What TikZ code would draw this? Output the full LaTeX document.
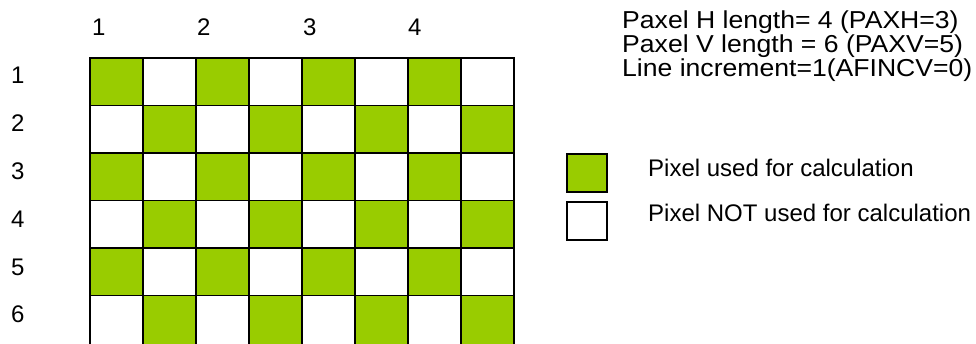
\documentclass[tikz,border=0pt]{standalone}
\usepackage{fontspec}
\setmainfont{Liberation Sans}
\newfontfamily\widefont[FakeStretch=1.085]{Liberation Sans}
\definecolor{lime}{RGB}{153,204,0}
\begin{document}
\begin{tikzpicture}[x=1pt,y=-1pt,
  cellbase/.style={draw=black,line width=1.6pt,minimum width=53pt,minimum height=47.5pt,inner sep=0pt,outer sep=0pt,anchor=north west},
  gcell/.style={cellbase,fill=lime},
  wcell/.style={cellbase,fill=white},
  legbox/.style={draw=black,line width=1.6pt,minimum width=40pt,minimum height=38pt,inner sep=0pt,outer sep=0pt,anchor=north west},
  lbl/.style={inner sep=0pt,anchor=base west,font=\fontsize{24}{24}\selectfont},
  toptxt/.style={inner sep=0pt,anchor=base west,font=\widefont\fontsize{24.5}{24}\selectfont}]
\useasboundingbox (0,0) rectangle (976,343);
\clip (0,0) rectangle (976,343);
\foreach \r in {0,...,5}{
  \foreach \c in {0,...,7}{
    \pgfmathtruncatemacro\s{mod(\r+\c,2)}
    \ifnum\s=0 \def\st{gcell}\else\def\st{wcell}\fi
    \ifnum\r=5
      \node[\st,minimum height=60pt] (c\r\c) at ({90+53*\c},{58+47.5*\r}) {};
    \else
      \node[\st] (c\r\c) at ({90+53*\c},{58+47.5*\r}) {};
    \fi
  }
}
% column labels
\node[lbl] (h1) at (92,35) {1};
\node[lbl] (h2) at (197,35) {2};
\node[lbl] (h3) at (303,35) {3};
\node[lbl] (h4) at (408,35) {4};
% row labels
\node[lbl] (v1) at (11,83) {1};
\node[lbl] (v2) at (11,131) {2};
\node[lbl] (v3) at (11,179) {3};
\node[lbl] (v4) at (11,227) {4};
\node[lbl] (v5) at (11,275) {5};
\node[lbl] (v6) at (11,322) {6};
% top text
\node[toptxt] (t1) at (622,28) {Paxel H length= 4 (PAXH=3)};
\node[toptxt] (t2) at (622,52) {Paxel V length = 6 (PAXV=5)};
\node[toptxt] (t3) at (622,76) {Line increment=1(AFINCV=0)};
% legend
\node[legbox,fill=lime] (lg) at (567,154) {};
\node[legbox,fill=white] (lw) at (567,202) {};
\node[lbl] (lgt) at (648,176) {Pixel used for calculation};
\node[lbl] (lwt) at (648,221) {Pixel NOT used for calculation};
\end{tikzpicture}
\end{document}
